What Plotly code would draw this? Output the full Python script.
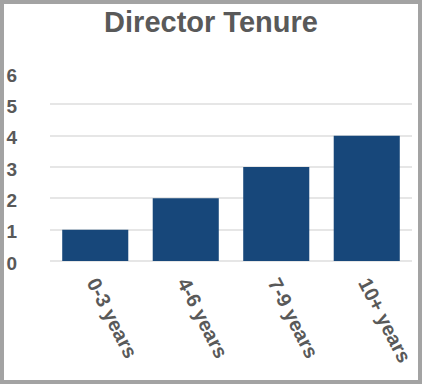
import plotly.graph_objects as go

categories = ["0-3 years", "4-6 years", "7-9 years", "10+ years"]
directors = [1, 2, 3, 4]
y_ticks = [0, 1, 2, 3, 4, 5, 6]

W, H = 422, 384
L, R, T, B = 50, 10, 73, 123
pw, ph = W - L - R, H - T - B

fig = go.Figure(go.Bar(
    x=categories, y=directors,
    marker=dict(color="#17477a", line=dict(width=0)),
))

fnt = dict(family="Liberation Sans, Arial, sans-serif", color="#595959", weight="bold")

fig.update_layout(
    width=W, height=H,
    margin=dict(l=L, r=R, t=T, b=B, pad=0, autoexpand=False),
    paper_bgcolor="white", plot_bgcolor="white",
    bargap=0.27,
    showlegend=False,
    title=dict(text="Director Tenure", x=0.5, xanchor="center", xref="container",
               y=1 - 31.5 / H, yanchor="bottom",
               font=dict(size=29, **fnt)),
    xaxis=dict(tickangle=63, tickfont=dict(size=20, **fnt), showgrid=False,
               showline=False, ticks="", ticklabelstandoff=6, automargin=False),
    yaxis=dict(range=[0, 6], tickvals=y_ticks, tickfont=dict(size=19, **fnt),
               showgrid=True, gridcolor="#e6e6e6", gridwidth=1.5,
               zeroline=True, zerolinecolor="#e6e6e6", zerolinewidth=1.5,
               showline=False, ticks="", ticklabelstandoff=32, ticklabelshift=2,
               fixedrange=True, automargin=False),
    shapes=[dict(type="rect", xref="paper", yref="paper",
                 x0=(2 - L) / pw, x1=(W - 2 - L) / pw,
                 y0=-(H - 2 - (H - B)) / ph, y1=(H - B - 2) / ph,
                 line=dict(color="#a3a3a3", width=4), layer="below")],
)

fig.write_html("out.html")
